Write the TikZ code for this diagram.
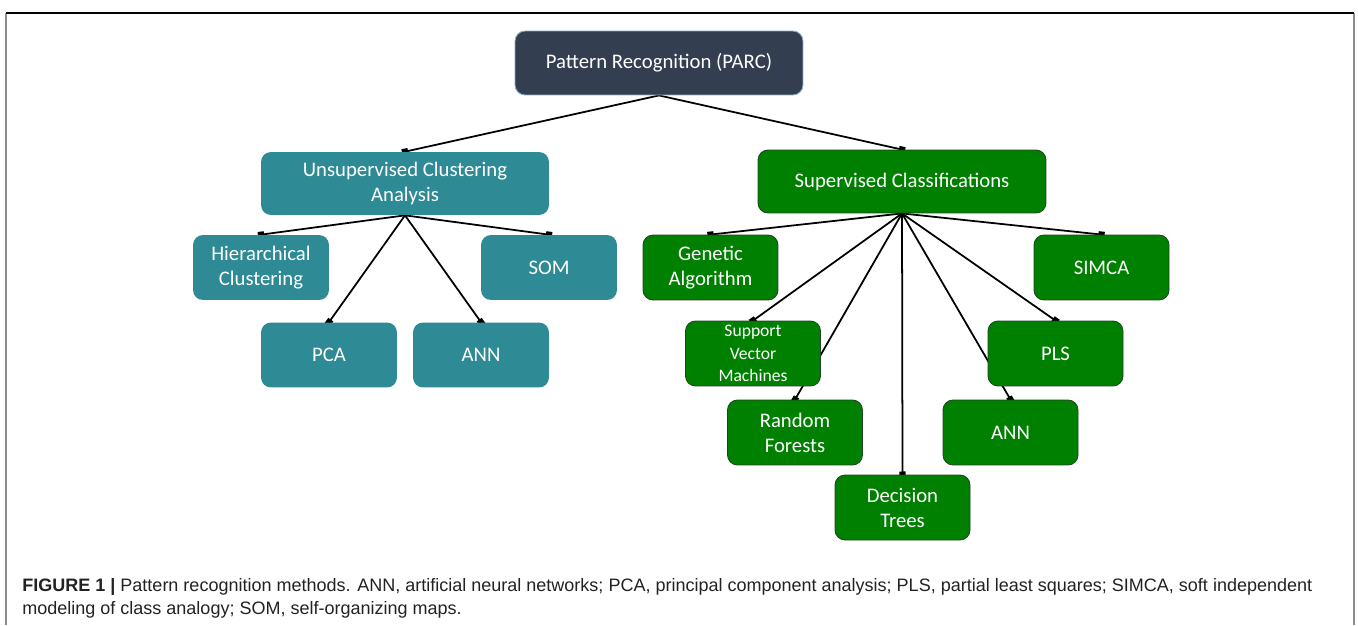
\documentclass[tikz,border=0pt]{standalone}
\usepackage{fontspec}
\setmainfont{Carlito}
\newfontfamily\capfont{Liberation Sans}
\usetikzlibrary{arrows.meta}
\usetikzlibrary{backgrounds}

\definecolor{parcblue}{HTML}{333F50}
\definecolor{parcedge}{HTML}{8EA9C8}
\definecolor{clustteal}{HTML}{2E8A94}
\definecolor{classgreen}{HTML}{008000}
\definecolor{classline}{HTML}{1E4620}
\definecolor{framegray}{HTML}{8C8C8C}
\definecolor{captext}{HTML}{222222}

\tikzset{
  box/.style={rounded corners=0.2cm, text=white, align=center,
    font=\fontsize{11.8}{14.2}\selectfont, inner sep=0pt},
  captxt/.style={anchor=base west, inner sep=0pt, text=captext,
    font=\capfont\fontsize{10.25}{12}\selectfont}
}

\begin{document}
\begin{tikzpicture}[x=0.02cm,y=-0.02cm]
    \useasboundingbox (0,0) rectangle (1358,625);
    % frame
    \draw[framegray,line width=0.6pt] (6,625) -- (6,13);
    \draw[framegray,line width=0.6pt] (1354,13) -- (1354,625);
    \draw[black,line width=0.6pt] (6,13) -- (1354,13);

    \node[box, fill=parcblue, draw=parcedge, line width=0.5pt,
      minimum width=5.76cm, minimum height=1.28cm] (parc) at (659,63) {Pattern Recognition (PARC)};

    \begin{scope}[every node/.style={box,fill=clustteal,minimum width=2.72cm,minimum height=1.3cm}]
    \node[minimum width=5.76cm, minimum height=1.26cm] (unsup) at (405,183.5) {Unsupervised Clustering\\Analysis};
    \node (hier) at (261,267.5) {Hierarchical\\Clustering};
    \node (som) at (549,267.5) {SOM};
    \node (pca) at (329,355) {PCA};
    \node (annl) at (481,355) {ANN};
    \end{scope}

    \begin{scope}[every node/.style={box,fill=classgreen,draw=classline,line width=0.5pt,minimum width=2.7cm,minimum height=1.3cm}]
    \node[minimum width=5.76cm, minimum height=1.26cm] (sup) at (902,181.5) {Supervised Classifications};
    \node (gen) at (710.5,267.5) {Genetic\\Algorithm};
    \node (simca) at (1101.5,267.5) {SIMCA};
    \node[font=\fontsize{10}{12.8}\selectfont] (svm) at (753,353.5) {Support\\Vector\\Machines};
    \node (pls) at (1055.5,353.5) {PLS};
    \node (rf) at (795,432.5) {Random\\Forests};
    \node (annr) at (1010.5,432.5) {ANN};
    \node (dt) at (902.5,507.5) {Decision\\Trees};
    \end{scope}

    \begin{scope}[on background layer, every edge/.style={draw=black, line width=1pt,
      -{Square[length=3.5pt,width=3.5pt]}, shorten >=-1.75pt}]
    \path (parc.south) edge (unsup.north);
    \path (parc.south) edge (sup.north);
    \path (unsup.south) edge (hier.north);
    \path (unsup.south) edge (som.north);
    \path (unsup.south) edge (pca.north);
    \path (unsup.south) edge (annl.north);
    \path (sup.south) edge (gen.north);
    \path (sup.south) edge (simca.north);
    \path (sup.south) edge (svm.north);
    \path (sup.south) edge (pls.north);
    \path (sup.south) edge (rf.north);
    \path (sup.south) edge (annr.north);
    \path (sup.south) edge (dt.north);
    \end{scope}

    % caption
    \node[captxt] (cap1) at (22,591) {\textbf{FIGURE 1 |} Pattern recognition methods. ANN, artificial neural networks; PCA, principal component analysis; PLS, partial least squares; SIMCA, soft independent};
    \node[captxt] (cap2) at (22,614) {modeling of class analogy; SOM, self-organizing maps.};
\end{tikzpicture}
\end{document}
